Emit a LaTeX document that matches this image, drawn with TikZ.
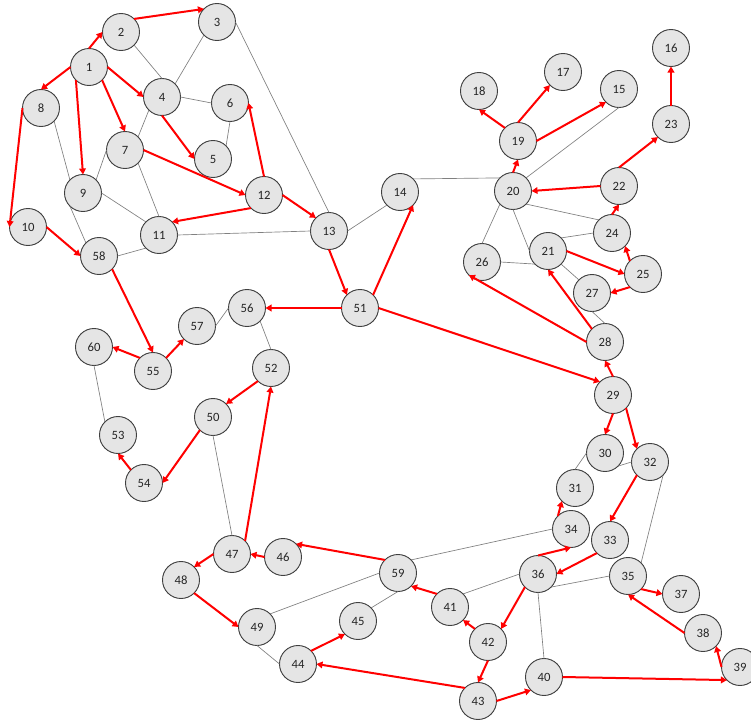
\documentclass[tikz,border=0pt]{standalone}
\usepackage{fontspec}
\setmainfont{Carlito}
\usetikzlibrary{arrows.meta}

\begin{document}
\begin{tikzpicture}[
  x=0.75pt, y=-0.75pt,
  vertex/.style={circle, draw=black!75, line width=0.7pt, fill=black!10, minimum size=27.75pt, inner sep=0pt, outer sep=0pt, text=black!85, font=\fontsize{9.5}{11}\selectfont},
  arc/.style={->, line width=1.5pt, draw=red},
  link/.style={draw=black!50, line width=0.5pt},
  >={Triangle[length=4.5pt,width=5pt]}
]
  \useasboundingbox (0,0) rectangle (751,721);

  % vertices
  \node[vertex] (n1) at (89,67) {1};
  \node[vertex] (n2) at (121,32) {2};
  \node[vertex] (n3) at (217,22) {3};
  \node[vertex] (n4) at (162,97) {4};
  \node[vertex] (n5) at (213,159) {5};
  \node[vertex] (n6) at (230,103) {6};
  \node[vertex] (n7) at (125,150) {7};
  \node[vertex] (n8) at (41,108) {8};
  \node[vertex] (n9) at (83,193) {9};
  \node[vertex] (n10) at (28,227) {10};
  \node[vertex] (n11) at (159,235) {11};
  \node[vertex] (n12) at (264,195) {12};
  \node[vertex] (n13) at (329,231) {13};
  \node[vertex] (n14) at (400,192) {14};
  \node[vertex] (n15) at (619,89) {15};
  \node[vertex] (n16) at (671,48) {16};
  \node[vertex] (n17) at (563,72) {17};
  \node[vertex] (n18) at (479,91) {18};
  \node[vertex] (n19) at (518,141) {19};
  \node[vertex] (n20) at (513,191) {20};
  \node[vertex] (n21) at (548,251) {21};
  \node[vertex] (n22) at (619,186) {22};
  \node[vertex] (n23) at (671,124) {23};
  \node[vertex] (n24) at (612,233) {24};
  \node[vertex] (n25) at (643,274) {25};
  \node[vertex] (n26) at (482,262) {26};
  \node[vertex] (n27) at (592,293) {27};
  \node[vertex] (n28) at (605,342) {28};
  \node[vertex] (n29) at (613,395) {29};
  \node[vertex] (n30) at (605,453) {30};
  \node[vertex] (n31) at (575,488) {31};
  \node[vertex] (n32) at (650,462) {32};
  \node[vertex] (n33) at (610,540) {33};
  \node[vertex] (n34) at (571,529) {34};
  \node[vertex] (n35) at (628,576) {35};
  \node[vertex] (n36) at (538,574) {36};
  \node[vertex] (n37) at (681,594) {37};
  \node[vertex] (n38) at (703,633) {38};
  \node[vertex] (n39) at (740,667) {39};
  \node[vertex] (n40) at (544,677) {40};
  \node[vertex] (n41) at (450,607) {41};
  \node[vertex] (n42) at (488,642) {42};
  \node[vertex] (n43) at (478,701) {43};
  \node[vertex] (n44) at (298,664) {44};
  \node[vertex] (n45) at (358,621) {45};
  \node[vertex] (n46) at (283,557) {46};
  \node[vertex] (n47) at (232,554) {47};
  \node[vertex] (n48) at (181,580) {48};
  \node[vertex] (n49) at (257,627) {49};
  \node[vertex] (n50) at (213,417) {50};
  \node[vertex] (n51) at (360,308) {51};
  \node[vertex] (n52) at (271,368) {52};
  \node[vertex] (n53) at (118,435) {53};
  \node[vertex] (n54) at (144,483) {54};
  \node[vertex] (n55) at (153,371) {55};
  \node[vertex] (n56) at (247,308) {56};
  \node[vertex] (n57) at (197,326) {57};
  \node[vertex] (n58) at (99,256) {58};
  \node[vertex] (n59) at (398,573) {59};
  \node[vertex] (n60) at (94,347) {60};

  % plain links
  \draw[link] (n2.south east) -- (n4.north);
  \draw[link] (n3.south west) -- (n4.north east);
  \draw[link] (n4.east) -- (n6.west);
  \draw[link] (n4.south west) -- (n7.north east);
  \draw[link] (n6.south) -- (n5.north east);
  \draw[link] (n7.west) -- (n9.north east);
  \draw[link] (n7.south east) -- (n11.north);
  \draw[link] (n9.east) -- (n11.north west);
  \draw[link] (n8.south east) -- (n9.north west);
  \draw[link] (n9.south west) -- (n58.north west);
  \draw[link] (n11.south west) -- (n58.east);
  \draw[link] (n11.east) -- (n13.west);
  \draw[link] (n3.east) -- (n13.north);
  \draw[link] (n13.east) -- (n14.south west);
  \draw[link] (n14.north east) -- (n20.north west);
  \draw[link] (n20.north east) -- (n15.south);
  \draw[link] (n20.south west) -- (n26.north);
  \draw[link] (n20.south) -- (n21.west);
  \draw[link] (n20.south east) -- (n24.north west);
  \draw[link] (n21.north east) -- (n24.west);
  \draw[link] (n26.east) -- (n21.south west);
  \draw[link] (n21.south east) -- (n27.north west);
  \draw[link] (n27.south) -- (n28.north);
  \draw[link] (n56.west) -- (n57.east);
  \draw[link] (n56.south east) -- (n52.north);
  \draw[link] (n60.south) -- (n53.north west);
  \draw[link] (n50.south) -- (n47.north);
  \draw[link] (n30.west) -- (n31.north);
  \draw[link] (n30.south east) -- (n32.west);
  \draw[link] (n32.south east) -- (n35.north east);
  \draw[link] (n34.west) -- (n59.north east);
  \draw[link] (n36.west) -- (n41.north east);
  \draw[link] (n36.south east) -- (n35.west);
  \draw[link] (n36.south) -- (n40.north);
  \draw[link] (n49.north east) -- (n59.west);
  \draw[link] (n59.south) -- (n45.north east);
  \draw[link] (n49.south) -- (n44.west);

  % directed arcs
  \draw[arc] (n1.north) -- (n2.west);
  \draw[arc] (n2.north east) -- (n3.north west);
  \draw[arc] (n1.west) -- (n8.north);
  \draw[arc] (n1.east) -- (n4.west);
  \draw[arc] (n1.south east) -- (n7.north);
  \draw[arc] (n1.south west) -- (n9.north);
  \draw[arc] (n8.west) -- (n10.west);
  \draw[arc] (n4.south) -- (n5.west);
  \draw[arc] (n12.north) -- (n6.east);
  \draw[arc] (n7.east) -- (n12.west);
  \draw[arc] (n12.south west) -- (n11.north east);
  \draw[arc] (n12.east) -- (n13.north west);
  \draw[arc] (n10.east) -- (n58.west);
  \draw[arc] (n58.south east) -- (n55.north);
  \draw[arc] (n13.south) -- (n51.north west);
  \draw[arc] (n51.north east) -- (n14.south east);
  \draw[arc] (n51.west) -- (n56.east);
  \draw[arc] (n51.east) -- (n29.north west);
  \draw[arc] (n55.north east) -- (n57.south west);
  \draw[arc] (n55.north west) -- (n60.east);
  \draw[arc] (n52.south west) -- (n50.north east);
  \draw[arc] (n50.south west) -- (n54.east);
  \draw[arc] (n54.north west) -- (n53.south);
  \draw[arc] (n47.north east) -- (n52.south);
  \draw[arc] (n59.north west) -- (n46.north east);
  \draw[arc] (n46.west) -- (n47.east);
  \draw[arc] (n47.west) -- (n48.north east);
  \draw[arc] (n48.south east) -- (n49.west);
  \draw[arc] (n41.north west) -- (n59.south east);
  \draw[arc] (n44.north east) -- (n45.south west);
  \draw[arc] (n43.north west) -- (n44.east);
  \draw[arc] (n42.south) -- (n43.north);
  \draw[arc] (n42.north west) -- (n41.south east);
  \draw[arc] (n36.south west) -- (n42.north east);
  \draw[arc] (n43.east) -- (n40.south west);
  \draw[arc] (n40.east) -- (n39.south west);
  \draw[arc] (n39.west) -- (n38.south east);
  \draw[arc] (n38.west) -- (n35.south);
  \draw[arc] (n35.south east) -- (n37.west);
  \draw[arc] (n36.north) -- (n34.south);
  \draw[arc] (n34.north west) -- (n31.south west);
  \draw[arc] (n33.south west) -- (n36.east);
  \draw[arc] (n32.south west) -- (n33.north);
  \draw[arc] (n29.south) -- (n30.north);
  \draw[arc] (n29.south east) -- (n32.north west);
  \draw[arc] (n29.north) -- (n28.south);
  \draw[arc] (n28.west) -- (n26.south west);
  \draw[arc] (n28.north west) -- (n21.south);
  \draw[arc] (n21.east) -- (n25.west);
  \draw[arc] (n25.north west) -- (n24.south east);
  \draw[arc] (n25.south west) -- (n27.east);
  \draw[arc] (n24.north) -- (n22.south);
  \draw[arc] (n22.west) -- (n20.east);
  \draw[arc] (n22.north) -- (n23.south west);
  \draw[arc] (n23.north) -- (n16.south);
  \draw[arc] (n20.north) -- (n19.south);
  \draw[arc] (n19.north west) -- (n18.south);
  \draw[arc] (n19.north) -- (n17.south west);
  \draw[arc] (n19.east) -- (n15.south west);
\end{tikzpicture}
\end{document}
